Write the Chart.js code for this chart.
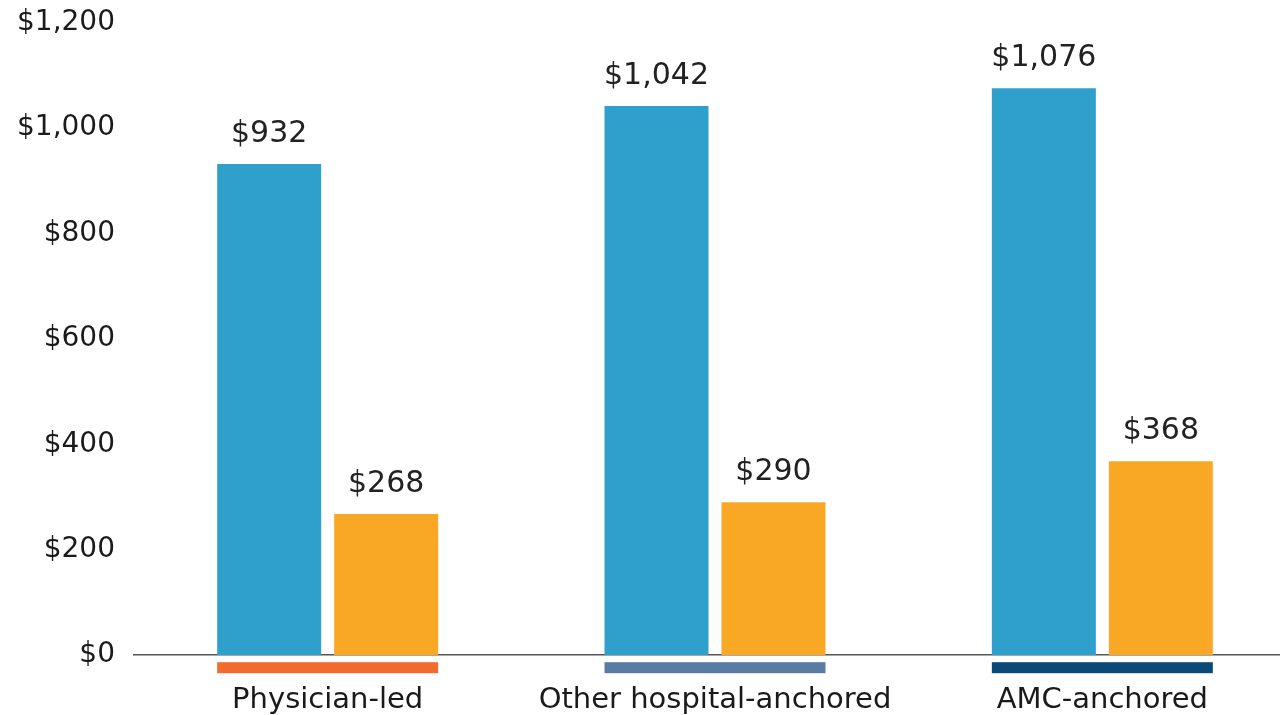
<!DOCTYPE html>
<html>
<head>
<meta charset="utf-8">
<script src="https://cdn.jsdelivr.net/npm/chart.js@4.4.0/dist/chart.umd.min.js"></script>
<style>
  html, body { margin: 0; padding: 0; background: #ffffff; overflow: hidden; width: 1280px; height: 715px; }
  #wrap { position: absolute; left: 0; top: -13px; width: 1300px; height: 772px; }
</style>
</head>
<body>
<div id="wrap"><canvas id="c" width="1300" height="772"></canvas></div>
<script>
const categories = ["Physician-led", "Other hospital-anchored", "AMC-anchored"];
const seriesA = [932, 1042, 1076];
const seriesB = [268, 290, 368];
const categoryColors = ["#F26A2E", "#5A7BA3", "#0B4A77"];
const yTicks = [0, 200, 400, 600, 800, 1000, 1200];

const fmt = v => "$" + v.toLocaleString("en-US");

const decorPlugin = {
  id: "decor",
  afterDatasetsDraw(chart) {
    const ctx = chart.ctx;
    const y = chart.scales.y;
    const y0 = y.getPixelForValue(0);
    // category underline bars
    categories.forEach((c, i) => {
      const m0 = chart.getDatasetMeta(0).data[i];
      const m1 = chart.getDatasetMeta(1).data[i];
      const left = m0.x - m0.width / 2;
      const right = m1.x + m1.width / 2;
      ctx.fillStyle = categoryColors[i];
      ctx.fillRect(left, y0 + 7, right - left, 11);
    });
    // value labels
    ctx.save();
    ctx.font = "30px 'DejaVu Sans'";
    ctx.fillStyle = "#222222";
    ctx.textAlign = "center";
    ctx.textBaseline = "alphabetic";
    chart.data.datasets.forEach((ds, di) => {
      chart.getDatasetMeta(di).data.forEach((bar, i) => {
        ctx.fillText(fmt(ds.data[i]), bar.x, bar.y - 22);
      });
    });
    ctx.restore();
  }
};

new Chart(document.getElementById("c"), {
  type: "bar",
  data: {
    labels: categories,
    datasets: [
      { data: seriesA, backgroundColor: "#2F9FCB", barPercentage: 0.889, categoryPercentage: 0.604 },
      { data: seriesB, backgroundColor: "#F9A826", barPercentage: 0.889, categoryPercentage: 0.604 }
    ]
  },
  options: {
    responsive: false,
    animation: false,
    devicePixelRatio: 1,
    layout: { padding: { top: 7, right: 4, bottom: 13, left: 0 } },
    plugins: { legend: { display: false }, tooltip: { enabled: false } },
    scales: {
      x: {
        grid: { display: false, drawTicks: false },
        border: { display: true, color: "#555555", width: 1.5 },
        ticks: { color: "#1a1a1a", font: { family: "'DejaVu Sans'", size: 29 }, padding: 28, maxRotation: 0 }
      },
      y: {
        min: 0, max: 1200,
        afterBuildTicks: s => { s.ticks = yTicks.map(v => ({ value: v })); },
        afterFit: s => { s.width = 134; },
        grid: { display: false, drawTicks: false },
        border: { display: false },
        ticks: { color: "#1a1a1a", font: { family: "'DejaVu Sans'", size: 28 }, padding: 19, callback: v => fmt(v) }
      }
    }
  },
  plugins: [decorPlugin]
});
</script>
</body>
</html>
